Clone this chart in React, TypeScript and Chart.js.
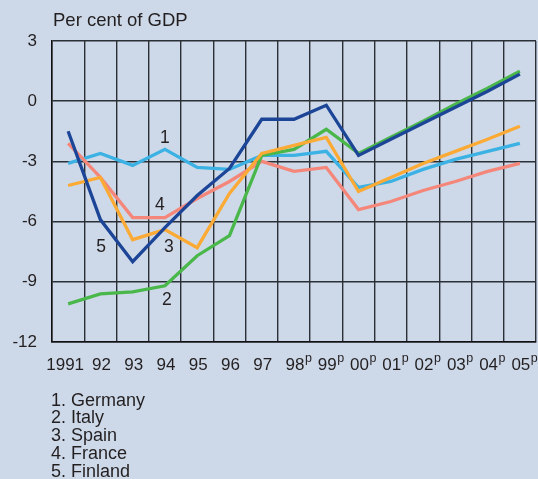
import React, { useEffect, useRef } from 'react';
import { Chart, registerables } from 'chart.js';

Chart.register(...registerables);

const years = ['1991', '92', '93', '94', '95', '96', '97', '98p', '99p', '00p', '01p', '02p', '03p', '04p', '05p'];
const countries = ['Germany', 'Italy', 'Spain', 'France', 'Finland'];
const germany = [-3.1, -2.6, -3.2, -2.4, -3.3, -3.4, -2.7, -2.7, -2.5, -4.3, -4.0, -3.4, -2.9, -2.5, -2.1];
const italy = [-10.1, -9.6, -9.5, -9.2, -7.7, -6.7, -2.7, -2.4, -1.4, -2.6, -1.8, -1.0, -0.15, 0.65, 1.5];
const spain = [-4.2, -3.8, -6.9, -6.4, -7.3, -4.6, -2.6, -2.2, -1.8, -4.5, -3.8, -3.1, -2.5, -1.9, -1.25];
const france = [-2.1, -3.8, -5.8, -5.8, -4.85, -4.0, -3.0, -3.5, -3.3, -5.4, -5.0, -4.45, -4.0, -3.5, -3.1];
const finland = [-1.5, -5.9, -8.0, -6.3, -4.7, -3.35, -0.9, -0.9, -0.2, -2.7, -1.9, -1.1, -0.3, 0.5, 1.35];
const yTicks = [3, 0, -3, -6, -9, -12];

// in-chart series number labels (category index, value)
const markText = ['1', '2', '3', '4', '5'];
const markAt = [3.0, 3.06, 3.12, 2.84, 1.02];
const markVal = [-1.8, -9.88, -7.2, -5.15, -7.2];

const BG = '#cdd9e9';
const INK = '#231f20';
const FONT = '"Liberation Sans", Arial, Helvetica, sans-serif';

const overlay = {
  id: 'overlay',
  beforeDraw(chart: any) {
    const ctx = chart.ctx;
    ctx.save();
    ctx.fillStyle = BG;
    ctx.fillRect(0, 0, chart.width, chart.height);
    ctx.restore();
  },
  afterDraw(chart: any) {
    const ctx = chart.ctx;
    const xs = chart.scales.x;
    const ys = chart.scales.y;
    ctx.save();
    ctx.fillStyle = INK;
    ctx.textBaseline = 'alphabetic';
    ctx.textAlign = 'left';
    ctx.font = `18.5px ${FONT}`;
    ctx.fillText('Per cent of GDP', 53, 26);

    // x labels with superscript p
    const mainFont = `17px ${FONT}`;
    const supFont = `12.5px ${FONT}`;
    years.forEach((lab, i) => {
      const proj = lab.endsWith('p');
      const base = proj ? lab.slice(0, -1) : lab;
      ctx.font = mainFont;
      const w1 = ctx.measureText(base).width;
      const x0 = xs.getPixelForValue(i) + 1 - w1 / 2 - (i === 0 ? 4 : 0);
      ctx.fillText(base, x0, 370);
      if (proj) {
        ctx.font = supFont;
        ctx.fillText('p', x0 + w1 + 0.5, 361.5);
      }
    });

    // series number labels
    ctx.font = `17.5px ${FONT}`;
    ctx.textAlign = 'center';
    ctx.textBaseline = 'middle';
    markText.forEach((t, i) => {
      ctx.fillText(t, xs.getPixelForValue(markAt[i]), ys.getPixelForValue(markVal[i]) + 1);
    });

    // legend
    ctx.font = `18px ${FONT}`;
    ctx.textAlign = 'left';
    ctx.textBaseline = 'alphabetic';
    countries.forEach((c, i) => {
      ctx.fillText(`${i + 1}. ${c}`, 51, 405.7 + i * 17.7);
    });
    ctx.restore();
  },
};

export default function App() {
  const ref = useRef<HTMLCanvasElement | null>(null);
  useEffect(() => {
    document.body.style.margin = '0';
    document.body.style.background = BG;
    const canvas = ref.current;
    if (!canvas) return;
    const mk = (label: string, data: number[], color: string, order: number) => ({
      label,
      data,
      borderColor: color,
      backgroundColor: color,
      borderWidth: 3.3,
      pointRadius: 0,
      tension: 0,
      fill: false,
      order,
    });
    const chart = new Chart(canvas, {
      type: 'line',
      data: {
        labels: years,
        datasets: [
          mk(countries[0], germany, '#3bb2e3', 5),
          mk(countries[1], italy, '#49b74a', 3),
          mk(countries[2], spain, '#fbab35', 2),
          mk(countries[3], france, '#f4877a', 4),
          mk(countries[4], finland, '#1c4597', 1),
        ],
      },
      options: {
        responsive: false,
        animation: false,
        devicePixelRatio: 1,
        layout: { padding: { top: 41, right: 2, left: 0, bottom: 0 } },
        plugins: { legend: { display: false }, tooltip: { enabled: false }, title: { display: false } },
        scales: {
          x: {
            type: 'category',
            offset: true,
            grid: { offset: true, color: '#2b2f36', lineWidth: 1.4, drawTicks: false },
            border: { display: true, color: '#111', width: 1.5 },
            ticks: { display: false },
            afterFit: (s: any) => { s.height = 137; },
          },
          y: {
            min: -12,
            max: 3,
            afterBuildTicks: (s: any) => { s.ticks = yTicks.map((v) => ({ value: v })); },
            grid: { color: '#2b2f36', lineWidth: 1.4, drawTicks: false },
            border: { display: true, color: '#111', width: 1.5 },
            ticks: { padding: 15, color: INK, font: { family: FONT, size: 17 } },
            afterFit: (s: any) => { s.width = 52; },
          },
        },
      },
      plugins: [overlay],
    } as any);
    return () => chart.destroy();
  }, []);
  return <canvas ref={ref} width={538} height={479} style={{ display: 'block' }} />;
}
